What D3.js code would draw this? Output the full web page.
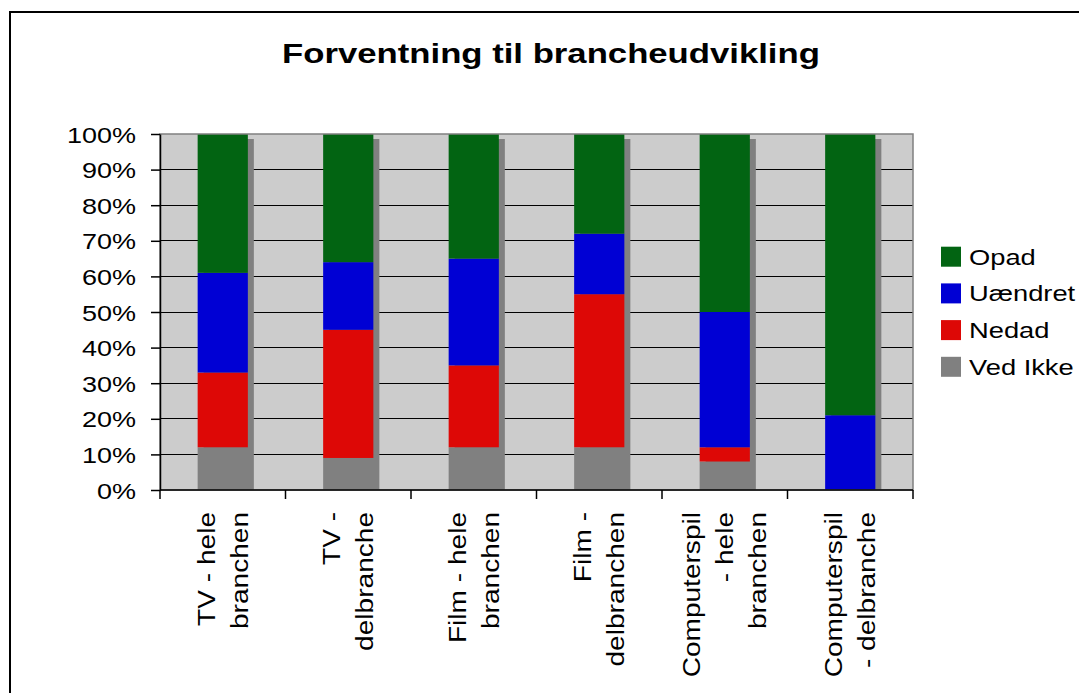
<!DOCTYPE html>
<html>
<head>
<meta charset="utf-8">
<script src="https://cdn.jsdelivr.net/npm/d3@7"></script>
<style>
  body { margin: 0; background: #fff; }
  svg { display: block; }
</style>
</head>
<body>
<div id="chart"></div>
<script>
// data (percent of answers per category)
var categories = ["TV - hele branchen", "TV - delbranche", "Film - hele branchen",
  "Film - delbranchen", "Computerspil - hele branchen", "Computerspil - delbranche"];
// how the category labels wrap under the axis
var categoryLines = [
  ["TV - hele", "branchen"],
  ["TV -", "delbranche"],
  ["Film - hele", "branchen"],
  ["Film -", "delbranchen"],
  ["Computerspil", "- hele", "branchen"],
  ["Computerspil", "- delbranche"]
];
var series = ["Ved Ikke", "Nedad", "Uændret", "Opad"];
var vedIkke = [12, 9, 12, 12, 8, 0];
var nedad = [21, 36, 23, 43, 4, 0];
var uaendret = [28, 19, 30, 17, 38, 21];
var opad = [39, 36, 35, 28, 50, 79];
var yTicks = [0, 10, 20, 30, 40, 50, 60, 70, 80, 90, 100];

var colors = {
  "Opad": "#026412",
  "Uændret": "#0000D4",
  "Nedad": "#DD0806",
  "Ved Ikke": "#808080"
};

var rows = categories.map(function (c, i) {
  return { cat: c, "Ved Ikke": vedIkke[i], "Nedad": nedad[i], "Uændret": uaendret[i], "Opad": opad[i] };
});

var width = 1079,
  height = 693;
var plot = { left: 160, right: 913, top: 134, bottom: 490 };

var svg = d3.select("#chart").append("svg")
  .attr("width", width)
  .attr("height", height);

// chart area frame (runs off the picture at right and bottom)
svg.append("rect")
  .attr("x", 10).attr("y", 12)
  .attr("width", 1200).attr("height", 800)
  .attr("fill", "#fff")
  .attr("stroke", "#000")
  .attr("stroke-width", 2);

var xOuter = d3.scaleBand().domain(categories).range([plot.left, plot.right]).padding(0);
var x = d3.scaleBand().domain(categories).range([plot.left, plot.right])
  .paddingInner(0.6).paddingOuter(0.3);
var y = d3.scaleLinear().domain([0, 100]).range([plot.bottom, plot.top]);

// plot background
svg.append("rect")
  .attr("x", plot.left).attr("y", plot.top)
  .attr("width", plot.right - plot.left).attr("height", plot.bottom - plot.top)
  .attr("fill", "#CCCCCC");

// gridlines
svg.append("g").selectAll("line")
  .data(yTicks.filter(function (d) { return d > 0 && d < 100; }))
  .enter().append("line")
  .attr("x1", plot.left).attr("x2", plot.right)
  .attr("y1", function (d) { return y(d); })
  .attr("y2", function (d) { return y(d); })
  .attr("stroke", "#000")
  .attr("stroke-width", 1)
  .attr("shape-rendering", "crispEdges");

// bar shadows
svg.append("defs").append("clipPath").attr("id", "plotClip")
  .append("rect")
  .attr("x", plot.left).attr("y", plot.top)
  .attr("width", plot.right - plot.left).attr("height", plot.bottom - plot.top);

svg.append("g").attr("clip-path", "url(#plotClip)")
  .selectAll("rect")
  .data(rows)
  .enter().append("rect")
  .attr("x", function (d) { return x(d.cat) + 6; })
  .attr("y", function (d) { return y(d3.sum(series, function (k) { return d[k]; })) + 5; })
  .attr("width", x.bandwidth())
  .attr("height", function (d) { return plot.bottom - y(d3.sum(series, function (k) { return d[k]; })); })
  .attr("fill", "#808080");

// stacked bars
var stacked = d3.stack().keys(series)(rows);

svg.append("g").selectAll("g")
  .data(stacked)
  .enter().append("g")
  .attr("fill", function (s) { return colors[s.key]; })
  .selectAll("rect")
  .data(function (s) { return s; })
  .enter().append("rect")
  .attr("x", function (d) { return x(d.data.cat); })
  .attr("y", function (d) { return y(d[1]); })
  .attr("width", x.bandwidth())
  .attr("height", function (d) { return y(d[0]) - y(d[1]); });

// plot border
svg.append("rect")
  .attr("x", plot.left).attr("y", plot.top)
  .attr("width", plot.right - plot.left).attr("height", plot.bottom - plot.top)
  .attr("fill", "none")
  .attr("stroke", "#808080")
  .attr("stroke-width", 1.5);

// y axis
var yAxis = svg.append("g")
  .attr("transform", "translate(" + plot.left + ",0)")
  .call(d3.axisLeft(y).tickValues(yTicks).tickSize(9).tickSizeOuter(0)
    .tickFormat(function (d) { return d + "%"; }));

yAxis.select(".domain").attr("stroke", "#000").attr("stroke-width", 1.5);
yAxis.selectAll(".tick line").attr("stroke", "#000").attr("stroke-width", 1.5);
yAxis.selectAll(".tick text")
  .attr("x", 0)
  .attr("dy", "0.36em")
  .attr("transform", "translate(-24,0) scale(1.2,1)")
  .attr("fill", "#000")
  .style("font-family", "'Liberation Sans', Arial, sans-serif")
  .style("font-size", "22.5px");

// x axis line and ticks at category boundaries
svg.append("line")
  .attr("x1", plot.left).attr("x2", plot.right)
  .attr("y1", plot.bottom).attr("y2", plot.bottom)
  .attr("stroke", "#000").attr("stroke-width", 1.5);

var boundaries = categories.map(function (c) { return xOuter(c); }).concat([xOuter.range()[1]]);
svg.append("g").selectAll("line")
  .data(boundaries)
  .enter().append("line")
  .attr("x1", function (d) { return d; }).attr("x2", function (d) { return d; })
  .attr("y1", plot.bottom).attr("y2", plot.bottom + 9)
  .attr("stroke", "#000").attr("stroke-width", 1.5);

// rotated category labels
var lineGap = 33;
var labels = svg.append("g").selectAll("g")
  .data(categories)
  .enter().append("g")
  .attr("transform", function (c) {
    return "translate(" + (xOuter(c) + xOuter.bandwidth() / 2) + "," + 512 + ") rotate(-90) scale(1.17,1)";
  });

labels.each(function (c, i) {
  var lines = categoryLines[i];
  var n = lines.length;
  d3.select(this).selectAll("text")
    .data(lines)
    .enter().append("text")
    .attr("x", 0)
    .attr("y", function (l, j) { return (j - (n - 1) / 2) * lineGap + 8.6; })
    .attr("text-anchor", "end")
    .style("font-family", "'Liberation Sans', Arial, sans-serif")
    .style("font-size", "24px")
    .attr("fill", "#000")
    .text(function (l) { return l; });
});

// legend
var legend = svg.append("g").selectAll("g")
  .data(series.slice().reverse())
  .enter().append("g")
  .attr("transform", function (d, i) { return "translate(941," + (246.7 + i * 36.7) + ")"; });

legend.append("rect")
  .attr("width", 20).attr("height", 20)
  .attr("fill", function (d) { return colors[d]; });

legend.append("text")
  .attr("transform", "translate(28,17.8) scale(1.27,1)")
  .style("font-family", "'Liberation Sans', Arial, sans-serif")
  .style("font-size", "21.5px")
  .attr("fill", "#000")
  .text(function (d) { return d; });

// title
svg.append("text")
  .attr("transform", "translate(551,63) scale(1.24,1)")
  .attr("text-anchor", "middle")
  .style("font-family", "'Liberation Sans', Arial, sans-serif")
  .style("font-weight", "bold")
  .style("font-size", "28px")
  .attr("fill", "#000")
  .text("Forventning til brancheudvikling");
</script>
</body>
</html>
